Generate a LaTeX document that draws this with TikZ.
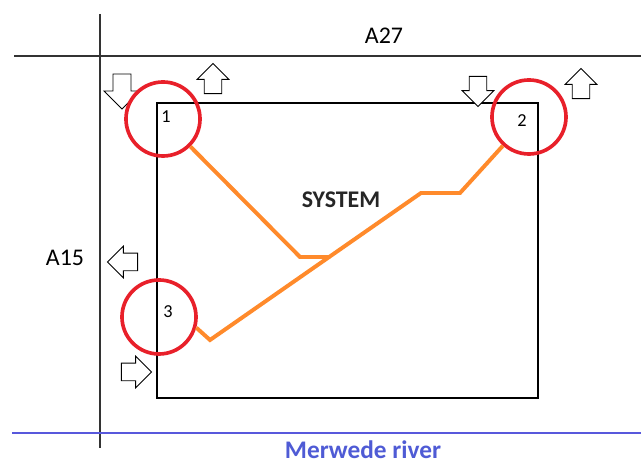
\documentclass[tikz,border=0pt]{standalone}
\usepackage{fontspec}
\setmainfont{Carlito}
\usetikzlibrary{shapes.arrows,positioning}
\definecolor{ringred}{HTML}{E8202A}
\definecolor{pipeorange}{HTML}{FF8A2B}
\definecolor{riverblue}{HTML}{5858DC}
\definecolor{rivertext}{HTML}{4F5BD5}

\begin{document}
\begin{tikzpicture}[
  x=0.025cm, y=-0.025cm,
  road/.style={line width=1.4pt, draw=black!80},
  sitebox/.style={
    rectangle, draw=black, line width=0.9pt,
    minimum width=9.525cm, minimum height=7.375cm, inner sep=0pt
  },
  ring/.style={
    circle, draw=ringred, line width=2.6pt,
    minimum size=1.85cm, inner sep=0pt
  },
  pipe/.style={draw=pipeorange, line width=2.8pt, line join=miter},
  flow/.style={
    single arrow, draw=black, line width=0.6pt, fill=white,
    minimum height=0.75cm, minimum width=0.75cm,
    single arrow head extend=0.175cm, inner sep=0.21cm
  },
  tag/.style={font=\fontsize{13}{15}\selectfont, inner sep=0pt},
  roadname/.style={font=\fontsize{17}{20}\selectfont, inner sep=0pt},
]
  \useasboundingbox (0,0) rectangle (641,464);

  % Roads and river
  \draw[road] (14,56) -- (641,56);
  \draw[road] (100,14) -- (100,448);
  \draw[riverblue, line width=1.3pt] (12,433) -- (641,433);
  \node[roadname] (a27) at (384,36) {A27};
  \node[roadname] (a15) at (65,258) {A15};
  \node[font=\fontsize{18}{21}\selectfont\bfseries, text=rivertext, inner sep=0pt]
    (river) at (363,450) {Merwede river};

  % System boundary
  \node[sitebox] (site) at (347.5,250.5) {};
  \node[font=\fontsize{17}{20}\selectfont\bfseries, text=black!85, inner sep=0pt]
    (sys) at (341,200) {SYSTEM};

  % In and out flows
  \node[flow, rotate=-90, minimum height=0.875cm, minimum width=0.9cm,
    single arrow head extend=0.22cm] (inA) at (122,87) {};
  \node[flow, rotate=90] (outA) at (213,83) {};
  \node[flow, rotate=-90] (inB) at (478,87) {};
  \node[flow, rotate=90] (outB) at (581,88) {};
  \node[flow, rotate=180] (outC) at (127,262) {};
  \node[flow] (inC) at (132,372) {};

  % Pipelines
  \coordinate (p1) at (300,257);
  \coordinate (p2) at (330,257);
  \coordinate (q1) at (210,340);
  \coordinate (q2) at (421,193);
  \coordinate (q3) at (460,193);

  % Points of connection
  \node[ring] (c1) at (163,119) {};
  \node[ring] (c2) at (529,117) {};
  \node[ring] (c3) at (159,317) {};
  \node[tag] (l1) at (166,117) {1};
  \node[tag] (l2) at (522,121) {2};
  \node[tag] (l3) at (168,312) {3};

  \draw[pipe] (c1) -- (p1) -- (p2);
  \draw[pipe] (c3.-16) -- (q1) -- (q2) -- (q3) -- (c2);
\end{tikzpicture}
\end{document}
